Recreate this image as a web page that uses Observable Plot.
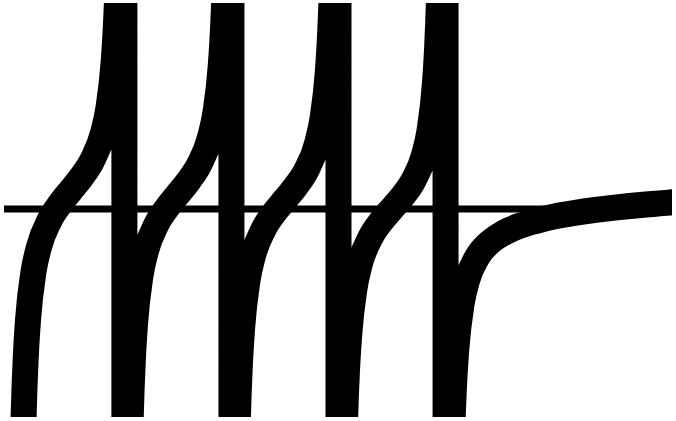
<!DOCTYPE html>
<html>
<head>
<meta charset="utf-8">
<script src="https://cdn.jsdelivr.net/npm/d3@7"></script>
<script src="https://cdn.jsdelivr.net/npm/@observablehq/plot@0.6"></script>
<style>
  html, body { margin: 0; padding: 0; background: #fff; overflow: hidden; }
</style>
</head>
<body>
<div id="chart"></div>
<script>
// Branch start points (the poles)
const branchStarts = [-4, -3, -2, -1];
// Offsets from each pole at which the curve was read
const offsets = [0.001, 0.02, 0.04, 0.06, 0.08, 0.1, 0.15, 0.2, 0.3, 0.4, 0.5, 0.6, 0.7, 0.8, 0.85, 0.9, 0.92, 0.94, 0.96, 0.98, 0.999];
// Values of each branch
const branchM4 = [-998.5, -48.42, -23.37, -14.98, -10.748, -8.186, -4.694, -2.863, -0.846, 0.394, 1.389, 2.384, 3.620, 5.636, 7.465, 10.954, 13.516, 17.743, 26.138, 51.197, 1001.25];
const branchM3 = [-998.8, -48.67, -23.62, -15.23, -11.003, -8.442, -4.954, -3.126, -1.116, 0.116, 1.103, 2.090, 3.317, 5.323, 7.147, 10.631, 13.191, 17.416, 25.809, 50.866, 1000.92];
const branchM2 = [-999.1, -49.01, -23.96, -15.57, -11.345, -8.787, -5.305, -3.483, -1.486, -0.269, 0.703, 1.673, 2.882, 4.868, 6.682, 10.155, 12.710, 16.931, 25.319, 50.371, 1000.42];
const branchM1 = [-999.6, -49.52, -24.47, -16.085, -11.866, -9.313, -5.845, -4.039, -2.074, -0.894, 0.036, 0.959, 2.113, 4.035, 5.812, 9.246, 11.784, 15.988, 24.357, 49.391, 999.42];
// Last branch, right of the final pole
const tailX = [0.001, 0.02, 0.04, 0.06, 0.08, 0.1, 0.15, 0.2, 0.3, 0.4, 0.5, 0.6, 0.7, 0.8, 0.9, 1.0, 1.1, 1.2, 1.3, 1.4, 1.5, 1.6, 1.7, 1.8, 1.9, 2.0, 2.1, 2.2];
const tailY = [-1000.58, -50.545, -25.513, -17.149, -12.953, -10.424, -7.021, -5.289, -3.503, -2.561, -1.964, -1.541, -1.220, -0.965, -0.754, -0.5772, -0.4238, -0.2890, -0.1692, -0.0614, 0.0365, 0.1260, 0.2085, 0.2855, 0.3574, 0.4228, 0.4853, 0.5443];

const branchValues = [branchM4, branchM3, branchM2, branchM1];
const data = [];
branchStarts.forEach((s, i) => {
  offsets.forEach((o, j) => data.push({x: s + o, y: branchValues[i][j]}));
});
tailX.forEach((x, j) => data.push({x, y: tailY[j]}));

const chart = Plot.plot({
  width: 676,
  height: 421,
  marginLeft: 4,
  marginRight: 4,
  marginTop: 3,
  marginBottom: 4,
  x: {domain: [-4.12, 2.12], axis: null},
  y: {domain: [-15.44, 15.23], axis: null},
  marks: [
    Plot.ruleY([0], {strokeWidth: 7, stroke: "black"}),
    Plot.line(data, {x: "x", y: "y", stroke: "black", strokeWidth: 26, curve: "monotone-x", clip: true})
  ]
});
document.getElementById("chart").append(chart);
</script>
</body>
</html>
